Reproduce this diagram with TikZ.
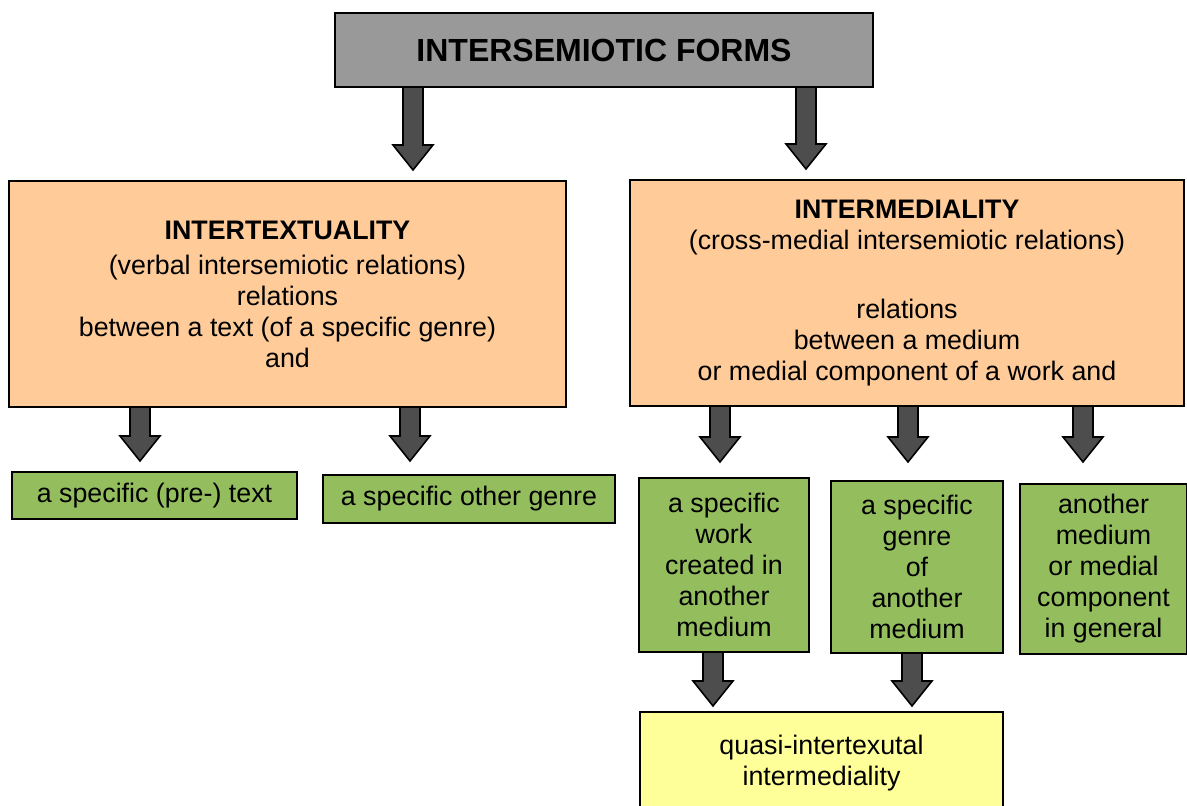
\documentclass[tikz,border=0pt]{standalone}
\usepackage{fontspec}
\setmainfont{Liberation Sans}
\usepackage{tikz}
\usetikzlibrary{calc}
\definecolor{titlegrey}{HTML}{999999}
\definecolor{peach}{HTML}{FFCC99}
\definecolor{leafgreen}{HTML}{94BE5E}
\definecolor{paleyellow}{HTML}{FFFF99}
\definecolor{arrowgrey}{HTML}{4D4D4D}
\tikzset{box/.style={draw=black, line width=1pt, inner sep=0pt, align=center, font=\fontsize{13.4}{15.5}\selectfont}}
\tikzset{titlebox/.style={box, fill=titlegrey, font=\fontsize{16}{18}\selectfont\bfseries}}
\tikzset{peachbox/.style={box, fill=peach}}
\tikzset{greenbox/.style={box, fill=leafgreen}}
\tikzset{yellowbox/.style={box, fill=paleyellow}}
\tikzset{fatarrow/.style={draw=black, line width=0.8pt, fill=arrowgrey, line join=miter}}
% [#1] = gap above target, #2 = x position, #3 = from node, #4 = to node
\newcommand{\blockarrow}[4][8]{%
  \path (#2,0) coordinate (ax);
  \draw[fatarrow] ($(ax |- #3.south)+(-10,-1)$) -- ($(ax |- #4.north)+(-10,-25-#1)$) -- ++(-10,0)
    -- ($(ax |- #4.north)+(0,-#1)$) -- ($(ax |- #4.north)+(20,-25-#1)$) -- ++(-10,0)
    -- ($(ax |- #3.south)+(10,-1)$) -- cycle;
}

\begin{document}
\begin{tikzpicture}[x=0.5pt, y=-0.5pt]
\useasboundingbox (0,0) rectangle (1187,806);

\node[titlebox, minimum width=269pt, minimum height=37pt] (forms) at (604,50) {INTERSEMIOTIC FORMS};

\node[peachbox, minimum width=278.5pt, minimum height=113pt] (intertext) at (287.5,294)
  {\textbf{INTERTEXTUALITY}\\[2pt](verbal intersemiotic relations)\\relations\\between a text (of a specific genre)\\and};
\node[peachbox, minimum width=277pt, minimum height=113pt] (intermed) at (907,293)
  {\textbf{INTERMEDIALITY}\\(cross-medial intersemiotic relations)\\[19pt]relations\\between a medium\\or medial component of a work and};

\node[greenbox, minimum width=142.5pt, minimum height=23.5pt] (pretext) at (154.5,495.5) {a specific (pre-) text};
\node[greenbox, minimum width=146pt, minimum height=24pt] (othergenre) at (469,499) {a specific other genre};

\node[greenbox, minimum width=85pt, minimum height=87pt] (work) at (724,565)
  {a specific\\work\\created in\\another\\medium};
\node[greenbox, minimum width=86pt, minimum height=86pt] (genre) at (917,567)
  {a specific\\genre\\of\\another\\medium};
\node[greenbox, minimum width=83.5pt, minimum height=85pt] (medium) at (1103.5,569)
  {another\\medium\\or medial\\component\\in general};

\node[yellowbox, minimum width=181.5pt, minimum height=51pt] (quasi) at (821.5,763)
  {quasi-intertexutal\\intermediality};

\blockarrow[10]{413}{forms}{intertext}
\blockarrow[10]{806}{forms}{intermed}
\blockarrow[10]{140}{intertext}{pretext}
\blockarrow[13]{410}{intertext}{othergenre}
\blockarrow[15]{720}{intermed}{work}
\blockarrow[18]{908}{intermed}{genre}
\blockarrow[21]{1083}{intermed}{medium}
\blockarrow[5]{713}{work}{quasi}
\blockarrow[5]{912}{genre}{quasi}
\end{tikzpicture}
\end{document}
